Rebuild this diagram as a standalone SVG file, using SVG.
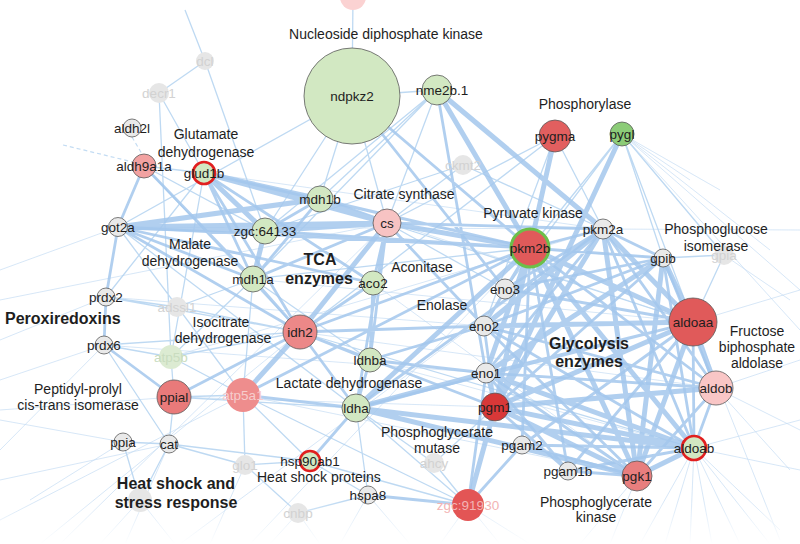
<svg xmlns="http://www.w3.org/2000/svg" width="800" height="544" viewBox="0 0 800 544">
<defs>
<linearGradient id="fade" x1="0" y1="0" x2="0" y2="1">
<stop offset="0" stop-color="#fff" stop-opacity="0"/>
<stop offset="1" stop-color="#fff" stop-opacity="1"/>
</linearGradient>
</defs>
<style>
.e{fill:none;stroke:#a3c7ec;stroke-opacity:.85}
.e1{stroke-width:5}
.e2{stroke-width:2.8}
.e3{stroke-width:1.3;stroke:#b3d2f0}
.e4{stroke-width:.8;stroke:#c3dcf3}
.ed{stroke-width:1.2;stroke:#c3dcf3;stroke-dasharray:4 3}
circle{stroke:#5a5a5a;stroke-width:.8}
.lg{fill:#d2e8c2}
.gr{fill:#e9e9e9}
.fd{fill:#e6e6e6;stroke:none}
.hl{stroke:#e11f1f;stroke-width:2.6}
text{font-family:"Liberation Sans",Arial,sans-serif;fill:#1e1e1e;text-anchor:middle}
.n{font-size:13.5px}
.fl{fill:#d2d2d2}
.c{font-size:14px}
.b{font-size:16px;font-weight:bold}
</style>
<rect width="800" height="544" fill="#fff"/>
<g id="connectors">
<path class="e e4" d="M622 134L800 330M622 134L800 290M622 134L770 250M622 134L720 190M622 134L690 180M724 255L790 300M716 388L800 360M716 388L800 430M716 388L790 470M694 448L800 420M694 448L800 470M694 448L770 544M694 448L740 544M694 448L712 544M694 448L690 544M694 448L665 544M694 448L640 544M694 448L780 530M637 476L610 544M637 476L580 544M468 505L440 544M468 505L500 544M468 505L530 544M368 495L410 544M368 495L340 544M298 513L270 544M298 513L320 544M140 500L100 544M140 500L175 544M245 465L210 544M169 444L125 544M123 442L0 420M123 442L30 500M104 345L0 380M104 345L0 450M106 297L0 340M118 227L0 270M174 397L0 410M169 444L0 480M603 229L800 230M693 322L800 290M693 322L780 540M0 520L243 395M40 544L300 332M60 544L387 223M250 544L530 248M180 544L603 229M0 300L387 223M253 279L693 322M320 199L693 322M265 231L663 258M118 227L603 229M204 173L603 229M300 332L716 388M373 283L637 476M370 360L694 448M243 395L637 476M174 397L495 407M104 345L486 373M106 297L484 326M171 357L603 229"/>
<path class="ed" d="M132 137L142 154M63 145L133 162"/>
<path class="e e3" d="M352 96L320 199M352 96L265 231M352 96L118 227M352 96L387 223M437 90L320 199M437 90L265 231M437 90L387 223M437 90L253 279M437 90L352 96M353 -3L352 96M555 136L387 223M555 136L484 326M555 136L300 332M555 136L603 229M622 134L530 248M622 134L505 289M205 61L265 231M159 93L204 173M159 93L171 357M159 93L205 61M205 61L185 10M144 166L204 173M144 166L265 231M144 166L300 332M118 227L243 395M118 227L356 408M204 173L171 357M204 173L106 297M253 279L370 360M253 279L243 395M106 297L177 307M177 307L300 332M177 307L253 279M171 357L300 332M171 357L174 397M171 357L243 395M171 357L253 279M104 345L171 357M106 297L300 332M104 345L300 332M174 397L243 395M174 397L169 444M174 397L356 408M243 395L245 465M243 395L310 461M243 395L468 505M310 461L368 495M310 461L245 465M368 495L356 408M368 495L298 513M298 513L245 465M169 444L245 465M169 444L140 500M140 500L123 442M434 463L468 505M434 463L356 408M434 463L495 407M463 165L603 229M463 165L387 223M463 165L265 231M724 255L693 322M724 255L663 258M724 255L622 134M622 134L663 258M622 134L693 322M300 332L694 448M387 223L693 322M387 223L505 289M253 279L530 248M169 444L310 461M123 442L169 444M104 345L169 444M356 408L468 505M310 461L468 505"/>
<path class="e e2" d="M118 227L253 279M118 227L300 332M118 227L373 283M118 227L106 297M144 166L118 227M144 166L253 279M204 173L253 279M204 173L300 332M204 173L373 283M204 173L530 248M320 199L265 231M320 199L253 279M320 199L530 248M387 223L373 283M387 223L370 360M387 223L484 326M387 223L603 229M253 279L387 223M253 279L300 332M373 283L300 332M373 283L370 360M352 96L530 248M352 96L505 289M437 90L486 373M530 248L603 229M530 248L663 258M530 248L505 289M530 248L484 326M530 248L716 388M530 248L522 445M530 248L300 332M603 229L486 373M603 229L505 289M603 229L694 448M603 229L716 388M603 229L663 258M603 229L356 408M663 258L694 448M663 258L716 388M663 258L484 326M663 258L495 407M663 258L505 289M693 322L694 448M693 322L486 373M693 322L505 289M693 322L522 445M693 322L356 408M716 388L694 448M716 388L637 476M716 388L486 373M716 388L484 326M694 448L522 445M694 448L568 471M694 448L484 326M637 476L486 373M637 476L484 326M637 476L568 471M637 476L522 445M495 407L486 373M495 407L484 326M486 373L468 505M522 445L468 505M356 408L370 360M356 408L300 332M356 408L387 223M370 360L300 332M243 395L356 408M243 395L530 248M104 345L106 297M174 397L300 332M104 345L174 397M310 461L356 408M368 495L468 505M486 373L370 360M484 326L370 360M568 471L495 407M568 471L486 373M568 471L693 322M530 248L568 471M300 332L484 326M300 332L495 407M118 227L530 248M265 231L530 248"/>
<path class="e e1" d="M118 227L387 223M118 227L320 199M118 227L265 231M204 173L387 223M204 173L320 199M204 173L265 231M320 199L387 223M265 231L387 223M265 231L253 279M387 223L530 248M387 223L300 332M437 90L530 248M437 90L603 229M555 136L530 248M622 134L495 407M530 248L693 322M530 248L637 476M530 248L694 448M530 248L486 373M530 248L495 407M530 248L356 408M603 229L693 322M603 229L637 476M603 229L484 326M603 229L495 407M663 258L693 322M663 258L637 476M663 258L486 373M693 322L716 388M693 322L637 476M693 322L484 326M693 322L495 407M694 448L637 476M694 448L486 373M694 448L495 407M716 388L495 407M495 407L637 476M495 407L468 505M486 373L356 408M356 408L694 448M356 408L637 476M243 395L300 332"/>
</g>
<rect x="0" y="500" width="800" height="44" fill="url(#fade)"/>
<g id="top-node"><circle class="fd" cx="353" cy="-3" r="13" style="fill:#fbd2d2"/></g>
<g id="ndpkz2"><circle class="lg" cx="352" cy="96" r="48"/><text class="n" x="352" y="101">ndpkz2</text></g>
<g id="nme2b.1"><circle class="lg" cx="437" cy="90" r="15"/><text class="n" x="442" y="95">nme2b.1</text></g>
<g id="dcl"><circle class="fd" cx="205" cy="61" r="9"/><text class="n fl" x="205" y="66">dcl</text></g>
<g id="decr1"><circle class="fd" cx="159" cy="93" r="10"/><text class="n fl" x="159" y="98">decr1</text></g>
<g id="ckmt2"><circle class="fd" cx="463" cy="165" r="10"/><text class="n fl" x="463" y="170">ckmt2</text></g>
<g id="aldh2l"><circle class="gr" cx="132" cy="128" r="9"/><text class="n" x="132" y="133">aldh2l</text></g>
<g id="aldh9a1a"><circle cx="144" cy="166" r="12" style="fill:#f2a2a2"/><text class="n" x="144" y="171">aldh9a1a</text></g>
<g id="glud1b"><circle class="lg hl" cx="204" cy="173" r="11"/><text class="n" x="204" y="178">glud1b</text></g>
<g id="pygma"><circle cx="555" cy="136" r="16" style="fill:#e25f5f"/><text class="n" x="555" y="141">pygma</text></g>
<g id="pygl"><circle cx="622" cy="134" r="12" style="fill:#8ccc78"/><text class="n" x="622" y="139">pygl</text></g>
<g id="got2a"><circle class="gr" cx="118" cy="227" r="9.5"/><text class="n" x="118" y="232">got2a</text></g>
<g id="mdh1b"><circle class="lg" cx="320" cy="199" r="13"/><text class="n" x="320" y="204">mdh1b</text></g>
<g id="cs"><circle cx="387" cy="223" r="14" style="fill:#f7c3c3"/><text class="n" x="387" y="228">cs</text></g>
<g id="zgc64133"><circle class="lg" cx="265" cy="231" r="13"/><text class="n" x="265" y="236">zgc:64133</text></g>
<g id="mdh1a"><circle class="lg" cx="253" cy="279" r="13"/><text class="n" x="253" y="284">mdh1a</text></g>
<g id="aco2"><circle class="lg" cx="373" cy="283" r="12"/><text class="n" x="373" y="288">aco2</text></g>
<g id="pkm2b"><circle cx="530" cy="248" r="19" style="fill:#e05a5a;stroke:#6cbf4a;stroke-width:3"/><text class="n" x="530" y="253">pkm2b</text></g>
<g id="pkm2a"><circle class="gr" cx="603" cy="229" r="10"/><text class="n" x="603" y="234">pkm2a</text></g>
<g id="gpib"><circle class="gr" cx="663" cy="258" r="9"/><text class="n" x="663" y="263">gpib</text></g>
<g id="gpia"><circle class="fd" cx="724" cy="255" r="10"/><text class="n fl" x="724" y="260">gpia</text></g>
<g id="eno3"><circle class="gr" cx="505" cy="289" r="10"/><text class="n" x="505" y="294">eno3</text></g>
<g id="eno2"><circle class="gr" cx="484" cy="326" r="10"/><text class="n" x="484" y="331">eno2</text></g>
<g id="prdx2"><circle class="gr" cx="106" cy="297" r="9"/><text class="n" x="106" y="302">prdx2</text></g>
<g id="adssl1"><circle class="fd" cx="177" cy="307" r="10"/><text class="n fl" x="177" y="312">adssl1</text></g>
<g id="idh2"><circle cx="300" cy="332" r="17" style="fill:#ec8888"/><text class="n" x="300" y="337">idh2</text></g>
<g id="aldoaa"><circle cx="693" cy="322" r="24" style="fill:#e05a5a"/><text class="n" x="693" y="327">aldoaa</text></g>
<g id="prdx6"><circle class="gr" cx="104" cy="345" r="9"/><text class="n" x="104" y="350">prdx6</text></g>
<g id="atp5b"><circle class="fd" cx="171" cy="357" r="12" style="fill:#dcebd2"/><text class="n" x="171" y="362" style="fill:#c9dcbf">atp5b</text></g>
<g id="ldhba"><circle class="lg" cx="370" cy="360" r="12"/><text class="n" x="370" y="365">ldhba</text></g>
<g id="eno1"><circle class="gr" cx="486" cy="373" r="10"/><text class="n" x="486" y="378">eno1</text></g>
<g id="aldob"><circle cx="716" cy="388" r="17" style="fill:#f9c6c6"/><text class="n" x="716" y="393">aldob</text></g>
<g id="ppial"><circle cx="174" cy="397" r="17" style="fill:#e97a7a"/><text class="n" x="174" y="402">ppial</text></g>
<g id="atp5a1"><circle class="fd" cx="243" cy="395" r="17" style="fill:#ee8d8d"/><text class="n" x="243" y="400" style="fill:#f6cccc">atp5a1</text></g>
<g id="ldha"><circle class="lg" cx="356" cy="408" r="14"/><text class="n" x="356" y="413">ldha</text></g>
<g id="pgm1"><circle cx="495" cy="407" r="14" style="fill:#d83838"/><text class="n" x="495" y="412">pgm1</text></g>
<g id="ppia"><circle class="gr" cx="123" cy="442" r="9"/><text class="n" x="123" y="447">ppia</text></g>
<g id="cat"><circle class="gr" cx="169" cy="444" r="9"/><text class="n" x="169" y="449">cat</text></g>
<g id="pgam2"><circle class="gr" cx="522" cy="445" r="9"/><text class="n" x="522" y="450">pgam2</text></g>
<g id="aldoab"><circle class="lg hl" cx="694" cy="448" r="12"/><text class="n" x="694" y="453">aldoab</text></g>
<g id="hsp90ab1"><circle class="lg hl" cx="310" cy="461" r="10"/><text class="n" x="310" y="466">hsp90ab1</text></g>
<g id="ahcy"><circle class="fd" cx="434" cy="463" r="10"/><text class="n fl" x="434" y="468">ahcy</text></g>
<g id="glo1"><circle class="fd" cx="245" cy="465" r="10"/><text class="n fl" x="245" y="470">glo1</text></g>
<g id="pgam1b"><circle class="gr" cx="568" cy="471" r="9"/><text class="n" x="568" y="476">pgam1b</text></g>
<g id="pgk1"><circle cx="637" cy="476" r="15" style="fill:#e87e7e"/><text class="n" x="637" y="481">pgk1</text></g>
<g id="hspa8"><circle class="gr" cx="368" cy="495" r="9"/><text class="n" x="368" y="500">hspa8</text></g>
<g id="zgc91930"><circle cx="468" cy="505" r="16" style="fill:#e35555;stroke:none"/><text class="n" x="468" y="510" style="fill:#f3b3b3">zgc:91930</text></g>
<g id="cnbp"><circle class="fd" cx="298" cy="513" r="10"/><text class="n fl" x="298" y="518">cnbp</text></g>
<g id="faded-node"><circle class="fd" cx="140" cy="500" r="12"/></g>
<g id="annotations">
<text class="c" x="386" y="39">Nucleoside diphosphate kinase</text>
<text class="c" x="585" y="109">Phosphorylase</text>
<text class="c" x="206" y="139">Glutamate</text>
<text class="c" x="206" y="157">dehydrogenase</text>
<text class="c" x="404" y="199">Citrate synthase</text>
<text class="c" x="533" y="218">Pyruvate kinase</text>
<text class="c" x="190" y="249">Malate</text>
<text class="c" x="190" y="266">dehydrogenase</text>
<text class="c" x="422" y="272">Aconitase</text>
<text class="c" x="716" y="234">Phosphoglucose</text>
<text class="c" x="716" y="251">isomerase</text>
<text class="c" x="442" y="310">Enolase</text>
<text class="c" x="221" y="327">Isocitrate</text>
<text class="c" x="223" y="343">dehydrogenase</text>
<text class="c" x="757" y="336">Fructose</text>
<text class="c" x="757" y="352">biphosphate</text>
<text class="c" x="757" y="368">aldolase</text>
<text class="c" x="349" y="388">Lactate dehydrogenase</text>
<text class="c" x="78" y="394">Peptidyl-prolyl</text>
<text class="c" x="78" y="410">cis-trans isomerase</text>
<text class="c" x="437" y="437">Phosphoglycerate</text>
<text class="c" x="437" y="453">mutase</text>
<text class="c" x="257" y="482" style="text-anchor:start">Heat shock proteins</text>
<text class="c" x="596" y="507">Phosphoglycerate</text>
<text class="c" x="596" y="522">kinase</text>
<text class="b" x="5" y="324" style="text-anchor:start">Peroxiredoxins</text>
<text class="b" x="320" y="265">TCA</text>
<text class="b" x="319" y="284">enzymes</text>
<text class="b" x="589" y="349">Glycolysis</text>
<text class="b" x="589" y="367">enzymes</text>
<text class="b" x="176" y="489">Heat shock and</text>
<text class="b" x="176" y="508">stress response</text>
</g>
</svg>
